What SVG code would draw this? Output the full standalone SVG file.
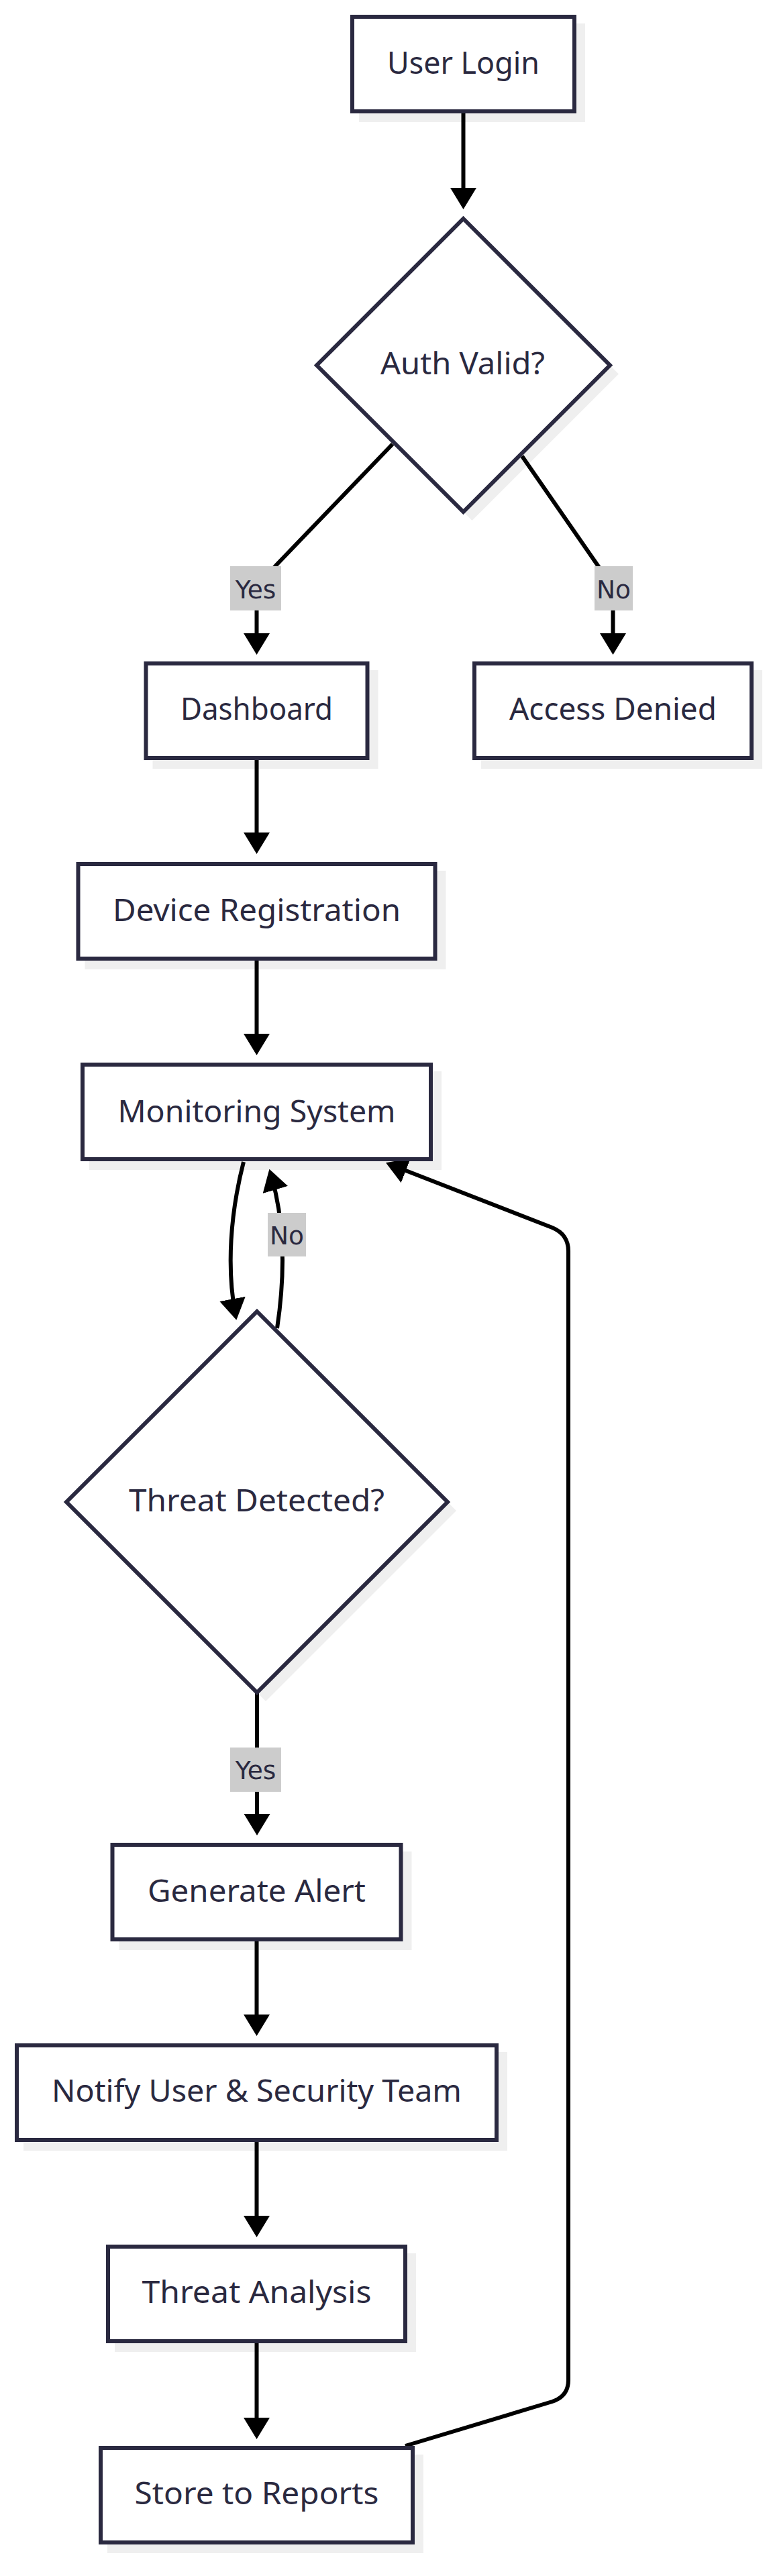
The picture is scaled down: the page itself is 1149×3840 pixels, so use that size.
<svg xmlns="http://www.w3.org/2000/svg" width="1149" height="3840" viewBox="0 0 1149 3840">
<style>
.bg{fill:#ffffff}
.sh{fill:#efefef;stroke:none}
.nd{fill:#ffffff;stroke:#2a2940;stroke-width:6}
.tx{font-family:"Noto Sans","DejaVu Sans",sans-serif;font-size:45px;fill:#2a2940;text-anchor:middle}
.ed{fill:none;stroke:#000000;stroke-width:6}
.lb{fill:#cccccc}
.lt{font-family:"DejaVu Sans",sans-serif;font-size:37.5px;fill:#2a2940;text-anchor:middle}
</style>
<defs>
<marker id="arr" viewBox="0 0 32 39" refX="22" refY="19.5" markerWidth="32" markerHeight="39" markerUnits="userSpaceOnUse" orient="auto">
<path d="M0,0 L32,19.5 L0,39 z" fill="#000000"/>
</marker>
</defs>
<rect class="bg" x="0" y="0" width="1149" height="3840"/>
<g id="shadows">
<rect class="sh" x="535" y="35" width="337" height="147"/>
<polygon class="sh" points="703.5,339 922,557.5 703.5,776 485,557.5"/>
<rect class="sh" x="227.5" y="999" width="336" height="147"/>
<rect class="sh" x="717" y="999" width="419" height="147"/>
<rect class="sh" x="126.5" y="1298" width="538" height="147"/>
<rect class="sh" x="133" y="1597" width="525" height="147"/>
<polygon class="sh" points="396,1968 680,2252 396,2536 112,2252"/>
<rect class="sh" x="177.5" y="2760" width="436" height="147"/>
<rect class="sh" x="35" y="3059" width="721" height="147"/>
<rect class="sh" x="171" y="3359" width="449" height="147"/>
<rect class="sh" x="160" y="3659" width="471" height="147"/>
</g>
<g id="connectors">
<path class="ed" d="M690.5,169 L690.5,302" marker-end="url(#arr)"/>
<path class="ed" d="M585,662 L412,842 Q382.5,873 382.5,905 L382.5,966" marker-end="url(#arr)"/>
<path class="ed" d="M778,680 L893,846 Q913.5,876 913.5,905 L913.5,966" marker-end="url(#arr)"/>
<path class="ed" d="M382.5,1133 L382.5,1263" marker-end="url(#arr)"/>
<path class="ed" d="M382.5,1432 L382.5,1563" marker-end="url(#arr)"/>
<path class="ed" d="M363,1732 C343,1810 338,1890 350.5,1958" marker-end="url(#arr)"/>
<path class="ed" d="M413,1980 C425,1900 424,1820 404.2,1752.4" marker-end="url(#arr)"/>
<path class="ed" d="M383,2523 L383,2726" marker-end="url(#arr)"/>
<path class="ed" d="M382.5,2894 L382.5,3025" marker-end="url(#arr)"/>
<path class="ed" d="M382.5,3193 L382.5,3325" marker-end="url(#arr)"/>
<path class="ed" d="M382.5,3493 L382.5,3626" marker-end="url(#arr)"/>
<path class="ed" d="M604,3646 L823,3580 Q847,3572 847,3548 L847,1865 Q847,1840 823,1830 L584.3,1737" marker-end="url(#arr)"/>
</g>
<g id="edge-labels">
<rect class="lb" x="343" y="844" width="76" height="66"/>
<text class="lt" x="381" y="891.5">Yes</text>
<rect class="lb" x="886" y="844" width="57" height="66"/>
<text class="lt" x="914.5" y="891.5">No</text>
<rect class="lb" x="399" y="1808" width="57" height="65"/>
<text class="lt" x="427.5" y="1855">No</text>
<rect class="lb" x="343" y="2605" width="76" height="66"/>
<text class="lt" x="381" y="2652">Yes</text>
</g>
<g id="user-login">
<rect class="nd" x="525" y="25" width="331" height="141"/>
<text class="tx" x="690.5" y="110" textLength="227" lengthAdjust="spacingAndGlyphs">User Login</text>
</g>
<g id="auth-valid">
<polygon class="nd" points="690.5,326 909,544.5 690.5,763 472,544.5"/>
<text class="tx" x="689.5" y="558" textLength="245" lengthAdjust="spacingAndGlyphs">Auth Valid?</text>
</g>
<g id="dashboard">
<rect class="nd" x="217.5" y="989" width="330" height="141"/>
<text class="tx" x="382.5" y="1073" textLength="227" lengthAdjust="spacingAndGlyphs">Dashboard</text>
</g>
<g id="access-denied">
<rect class="nd" x="707" y="989" width="413" height="141"/>
<text class="tx" x="913.5" y="1073" textLength="309" lengthAdjust="spacingAndGlyphs">Access Denied</text>
</g>
<g id="device-registration">
<rect class="nd" x="116.5" y="1288" width="532" height="141"/>
<text class="tx" x="382.5" y="1373" textLength="429" lengthAdjust="spacingAndGlyphs">Device Registration</text>
</g>
<g id="monitoring-system">
<rect class="nd" x="123" y="1587" width="519" height="141"/>
<text class="tx" x="382.5" y="1673" textLength="414" lengthAdjust="spacingAndGlyphs">Monitoring System</text>
</g>
<g id="threat-detected">
<polygon class="nd" points="383,1955 667,2239 383,2523 99,2239"/>
<text class="tx" x="382.5" y="2253" textLength="381" lengthAdjust="spacingAndGlyphs">Threat Detected?</text>
</g>
<g id="generate-alert">
<rect class="nd" x="167.5" y="2750" width="430" height="141"/>
<text class="tx" x="382.5" y="2835" textLength="325" lengthAdjust="spacingAndGlyphs">Generate Alert</text>
</g>
<g id="notify">
<rect class="nd" x="25" y="3049" width="715" height="141"/>
<text class="tx" x="382.5" y="3133" textLength="611" lengthAdjust="spacingAndGlyphs">Notify User &amp; Security Team</text>
</g>
<g id="threat-analysis">
<rect class="nd" x="161" y="3349" width="443" height="141"/>
<text class="tx" x="382.5" y="3433" textLength="342" lengthAdjust="spacingAndGlyphs">Threat Analysis</text>
</g>
<g id="store-reports">
<rect class="nd" x="150" y="3649" width="465" height="141"/>
<text class="tx" x="382.5" y="3733" textLength="364" lengthAdjust="spacingAndGlyphs">Store to Reports</text>
</g>
</svg>
